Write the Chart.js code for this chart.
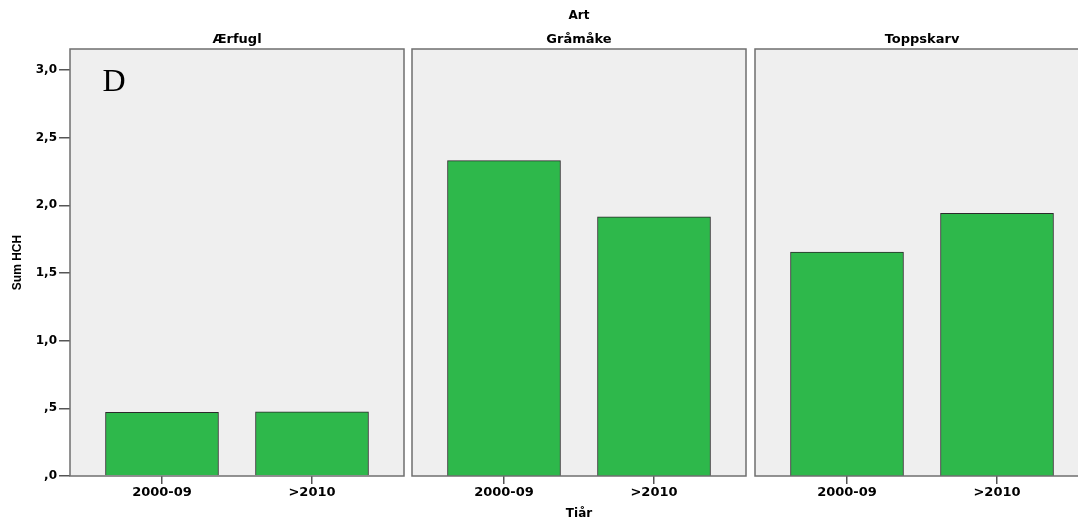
<!DOCTYPE html>
<html><head><meta charset="utf-8">
<script src="https://cdn.jsdelivr.net/npm/chart.js@4"></script>
<style>
html,body{margin:0;padding:0;background:#fff;overflow:hidden;width:1078px;height:526px;}
canvas{position:absolute;top:0;}
</style></head><body>
<canvas id="c0" width="408" height="526" style="left:0px"></canvas>
<canvas id="c1" width="342" height="526" style="left:408px"></canvas>
<canvas id="c2" width="343" height="526" style="left:750px"></canvas>
<script>
// ---- data ----
const species = ['Ærfugl', 'Gråmåke', 'Toppskarv'];
const periods = ['2000-09', '>2010'];
const aerfugl = [0.47, 0.475];
const gramake = [2.33, 1.915];
const toppskarv = [1.655, 1.94];
const yTicks = [0, 0.5, 1.0, 1.5, 2.0, 2.5, 3.0];
const yMax = 3.155;
const facetTitle = 'Art';
const xTitle = 'Tiår';
const yTitle = 'Sum HCH';
const panelLetter = 'D';

const seriesBySpecies = [aerfugl, gramake, toppskarv];

Chart.defaults.font.family = '"DejaVu Sans", sans-serif';
Chart.defaults.color = '#000';

const panelPlugin = {
  id: 'panel',
  beforeDraw(chart) {
    const {ctx, chartArea: a} = chart;
    ctx.save();
    ctx.fillStyle = '#efefef';
    ctx.fillRect(a.left, a.top, a.right - a.left, a.bottom - a.top);
    ctx.restore();
  },
  afterDatasetsDraw(chart, args, opts) {
    const {ctx, chartArea: a} = chart;
    ctx.save();
    ctx.strokeStyle = '#6f6f6f';
    ctx.lineWidth = 1.5;
    ctx.strokeRect(a.left, a.top, a.right - a.left, a.bottom - a.top);
    ctx.fillStyle = '#000';
    ctx.textAlign = 'center';
    ctx.textBaseline = 'middle';
    ctx.font = 'bold 13px "DejaVu Sans"';
    ctx.fillText(opts.title, (a.left + a.right) / 2, 40);
    if (opts.top) {
      ctx.font = 'bold 12px "DejaVu Sans"';
      ctx.fillText(opts.top, chart.width / 2, 15.5);
    }
    if (opts.letter) {
      ctx.textAlign = 'left';
      ctx.textBaseline = 'alphabetic';
      ctx.font = '32px "Liberation Serif"';
      ctx.fillText(opts.letter, 102.5, 90.5);
    }
    ctx.restore();
  }
};

function makeChart(idx) {
  const isFirst = idx === 0;
  const isMid = idx === 1;
  const vals = seriesBySpecies[idx];
  const pads = [{left: 0, right: 4}, {left: 4, right: 4}, {left: 5, right: 4}][idx];
  new Chart(document.getElementById('c' + idx), {
    type: 'bar',
    data: {
      datasets: [{
        data: periods.map((p, i) => ({x: i, y: vals[i]})),
        backgroundColor: '#2eb84b',
        borderColor: '#2b2b2b',
        borderWidth: 1,
        barThickness: 113
      }]
    },
    options: {
      responsive: false,
      animation: false,
      events: [],
      layout: {padding: {top: 49, bottom: 0, left: pads.left, right: pads.right}},
      plugins: {
        legend: {display: false},
        tooltip: {enabled: false},
        panel: {title: species[idx], top: isMid ? facetTitle : null, letter: isFirst ? panelLetter : null}
      },
      scales: {
        x: {
          type: 'linear',
          offset: false,
          min: -0.6133,
          max: 1.6133,
          afterBuildTicks: s => { s.ticks = periods.map((p, i) => ({value: i})); },
          afterFit: s => { s.height = 50; },
          ticks: {
            callback: v => periods[v] ?? '',
            font: {size: 13, weight: 'bold'},
            padding: 0.5,
            maxRotation: 0,
            autoSkip: false,
            color: '#000'
          },
          grid: {offset: false, drawOnChartArea: false, drawTicks: true, tickLength: 8, color: '#555', lineWidth: 1.5},
          border: {display: false},
          title: {
            display: isMid,
            text: xTitle,
            font: {size: 12, weight: 'bold'},
            padding: {top: 0, bottom: 5.3},
            color: '#000'
          }
        },
        y: {
          display: isFirst,
          min: 0,
          max: yMax,
          afterBuildTicks: s => { s.ticks = yTicks.map(v => ({value: v})); },
          afterFit: s => { if (isFirst) s.width = 70; },
          ticks: {
            callback: v => { let t = Number(v).toFixed(1).replace('.', ','); if (t.startsWith('0')) t = t.slice(1); return t; },
            font: {size: 12, weight: 'bold'},
            padding: 2,
            color: '#000'
          },
          grid: {drawOnChartArea: false, drawTicks: true, tickLength: 11, color: '#555', lineWidth: 1.5},
          border: {display: false},
          title: {
            display: true,
            text: yTitle,
            font: {family: '"Liberation Sans"', size: 12, weight: 'bold'},
            padding: {top: 10.8, bottom: 0},
            color: '#000'
          }
        }
      }
    },
    plugins: [panelPlugin]
  });
}
[0, 1, 2].forEach(makeChart);
</script>
</body></html>
